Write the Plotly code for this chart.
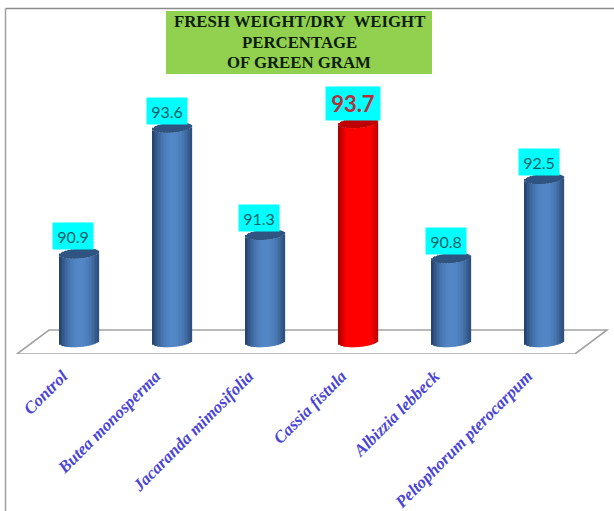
import numpy as np
import plotly.graph_objects as go

categories = ["Control", "Butea monosperma", "Jacaranda mimosifolia", "Cassia fistula", "Albizzia lebbeck", "Peltophorum pterocarpum"]
values = [90.9, 93.6, 91.3, 93.7, 90.8, 92.5]
title_lines = ["FRESH WEIGHT/DRY  WEIGHT", "PERCENTAGE", "OF GREEN GRAM"]
highlight = "Cassia fistula"

W, H = 614, 511
AXIS_PX = 354          # pixel row of the bottom of the plot area
X0_PX, DX_PX = 79.5, 93  # pixel of first category, pixels per category
BASE, PX_PER_UNIT = 89.0, 46.6
BASE_PX = 342


def xd(px):
    return (px - X0_PX) / DX_PX


def yd(px):
    return BASE + (BASE_PX - px) / PX_PER_UNIT


def mix(a, b, f):
    return "rgb(%d,%d,%d)" % tuple(round(a[i] + (b[i] - a[i]) * f) for i in range(3))


x = np.arange(len(categories))
v = np.array(values)
is_hi = np.array([c == highlight for c in categories])

fig = go.Figure()
N = 26
bar_w = 39 / DX_PX
ell = 5 / PX_PER_UNIT
tilt = 1.5 / PX_PER_UNIT
strip = bar_w / N
for k in range(N):
    t = -1 + (2 * k + 1) / N
    h = np.sqrt(1 - t * t)
    # shading: dark edges, light just right of centre
    f = np.clip(1 - abs(t - 0.05) ** 2.2, 0, 1)
    blue = mix((38, 68, 110), (82, 134, 198), f)
    red = mix((170, 0, 0), (255, 0, 0), min(1, f * 1.5))
    side_col = [red if s else blue for s in is_hi]
    cap_col = ["rgb(190,0,0)" if s else "rgb(48,84,130)" for s in is_hi]
    off = t * bar_w / 2 - strip * 0.6
    low = BASE - ell * h + tilt * t
    up = v - ell * h + tilt * t
    fig.add_trace(go.Bar(x=x, y=up - low, base=low, width=strip * 1.2, offset=off,
                         marker=dict(color=side_col, line_width=0), hoverinfo="skip", showlegend=False))
    fig.add_trace(go.Bar(x=x, y=[2 * ell * h] * len(x), base=up, width=strip * 1.2, offset=off,
                         marker=dict(color=cap_col, line_width=0), hoverinfo="skip", showlegend=False))

# floor parallelogram
floor = [(17, 354), (49, 330), (607, 330), (575, 354)]
path = "M " + " L ".join(f"{xd(a)},{yd(b)}" for a, b in floor) + " Z"
shapes = [dict(type="path", path=path, xref="x", yref="y", layer="below",
               fillcolor="white", line=dict(color="#a3a3a3", width=1.6))]


def py(p):
    return (AXIS_PX - p) / AXIS_PX


# figure frame (top and left)
shapes.append(dict(type="line", xref="paper", yref="paper", x0=5.5 / W, x1=1, y0=py(8.5), y1=py(8.5),
                   line=dict(color="#8a8a8a", width=1.5)))
shapes.append(dict(type="line", xref="paper", yref="paper", x0=5.5 / W, x1=5.5 / W, y0=py(8.5), y1=py(H),
                   line=dict(color="#a0a0a0", width=1.5)))
# title panel
shapes.append(dict(type="rect", xref="paper", yref="paper", x0=166 / W, x1=432 / W, y0=py(74), y1=py(11),
                   fillcolor="#92d050", line_width=0, layer="below"))

annotations = []
for line, p in zip(title_lines, (22, 42, 62)):
    annotations.append(dict(text=f"<b>{line}</b>", xref="paper", yref="paper", x=299 / W, y=py(p),
                            xanchor="center", yanchor="middle", showarrow=False,
                            font=dict(family="Liberation Serif", size=16.8, color="#0c1e08")))

label_dx = [-7, -6, -7, -6, -6, -6]
for i, (c, val) in enumerate(zip(categories, values)):
    hi = c == highlight
    annotations.append(dict(
        x=i, y=val, xref="x", yref="y", text=(f"<b>{val}</b>" if hi else f"{val}"),
        showarrow=False, xanchor="center", yanchor="bottom", xshift=label_dx[i], yshift=2 if hi else 3,
        width=54 if hi else 40, height=33 if hi else 26, bgcolor="#00ffff", borderpad=0,
        align="center", valign="middle",
        font=dict(family="Lato", size=22 if hi else 16, color="#b5303c" if hi else "#0a5f68")))

fig.update_layout(
    width=W, height=H, margin=dict(l=0, r=0, t=0, b=H - AXIS_PX, pad=0),
    paper_bgcolor="white", plot_bgcolor="rgba(0,0,0,0)", barmode="overlay", showlegend=False,
    shapes=shapes, annotations=annotations,
    xaxis=dict(range=[xd(0), xd(W)], tickmode="array", tickvals=list(x), ticktext=categories,
               tickangle=-45, showgrid=False, zeroline=False, showline=False, ticks="",
               ticklabelshift=-17, ticklabelstandoff=8,
               tickfont=dict(family="Liberation Serif", size=17, color="#4a45d6", weight="bold", style="italic")),
    yaxis=dict(range=[yd(AXIS_PX), yd(0)], visible=False),
)
fig.write_html("out.html", config={"displayModeBar": False},
               post_script="document.body.style.margin='0';")
